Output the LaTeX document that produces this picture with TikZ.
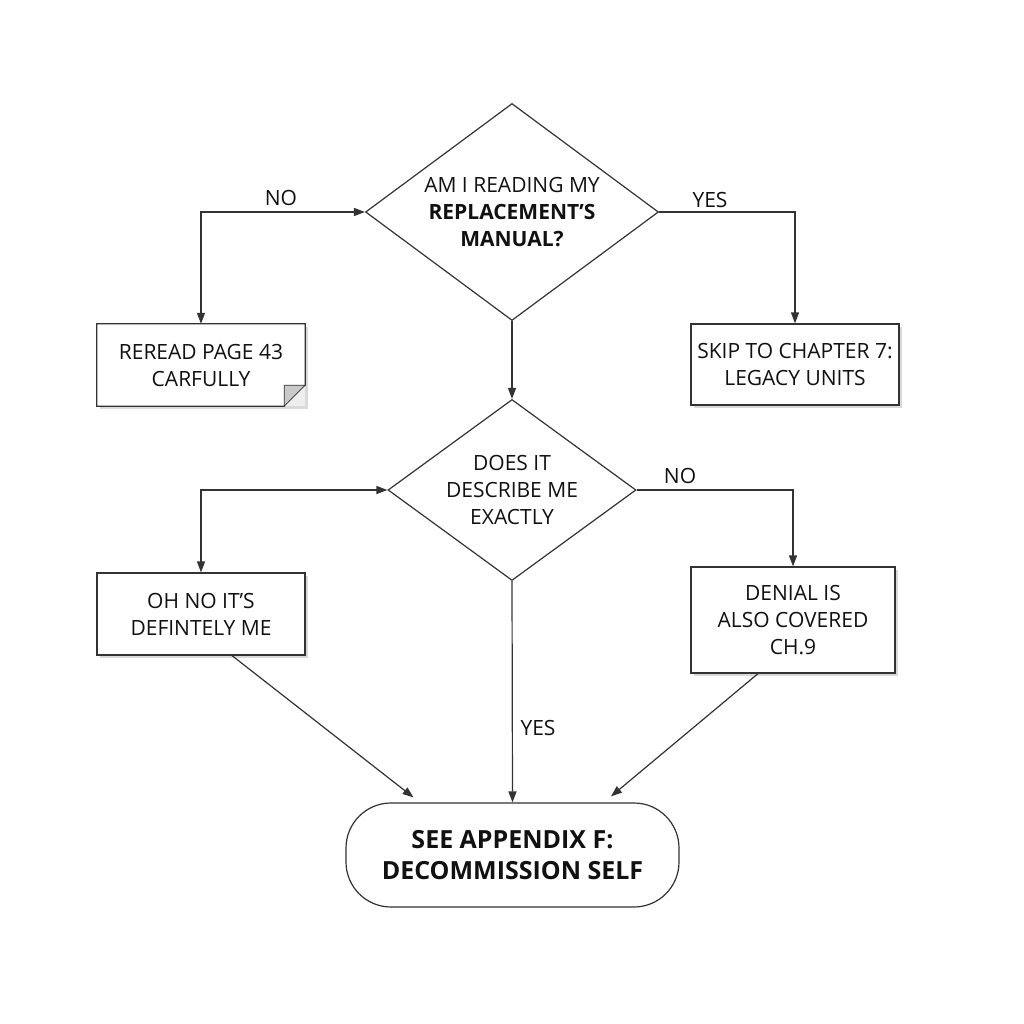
\documentclass[tikz,border=0pt]{standalone}
\usepackage{fontspec}
\setmainfont{Open Sans}
\usetikzlibrary{shapes.geometric,arrows.meta,shadows}
\definecolor{ln}{HTML}{333333}
\definecolor{tx}{HTML}{111111}
\definecolor{fold}{HTML}{C9C9C9}
\definecolor{foldbg}{HTML}{EEEEEE}
\begin{document}
\begin{tikzpicture}[x=1pt,y=-1pt,
  txt/.style={text=tx,font=\fontsize{21}{27}\selectfont,align=center},
  dec/.style={diamond,draw=ln,line width=1.2pt,inner sep=0pt,aspect=1.35,txt},
  boxn/.style={rectangle,draw=ln,line width=1.2pt,fill=white,txt,
     drop shadow={shadow xshift=3pt,shadow yshift=-3pt,opacity=0.15,fill=black}},
  term/.style={rectangle,rounded corners=45pt,draw=ln,line width=1.2pt,fill=white,text=tx,
     font=\bfseries\fontsize{25}{30.5}\selectfont,align=center},
  conn/.style={draw=ln,line width=1.2pt,-{Triangle[length=11pt,width=8pt]}},
  conn2/.style={draw=ln,line width=1.2pt,{Triangle[length=11pt,width=8pt]}-{Triangle[length=11pt,width=8pt]}},
  lab/.style={text=tx,font=\fontsize{21}{24}\selectfont}]
\fill[white] (0,0) rectangle (1024,1024);
\useasboundingbox (0,0) rectangle (1024,1024);

% decisions
\node[dec,minimum width=293pt,minimum height=217pt] (d1) at (512,212)
  {AM I READING MY\\\textbf{REPLACEMENT’S}\\\textbf{MANUAL?}};
\node[dec,minimum width=248pt,minimum height=181pt] (d2) at (512,490)
  {DOES IT\\DESCRIBE ME\\EXACTLY};

% boxes
\node[rectangle,minimum width=208pt,minimum height=82pt,inner sep=0pt] (r1) at (201,365) {};
\fill[black,opacity=0.15] ([xshift=3pt,yshift=-3pt]r1.north west) -- ([xshift=3pt,yshift=-3pt]r1.north east)
  -- ([xshift=3pt,yshift=-3pt]r1.south east) -- ([xshift=3pt,yshift=-3pt]r1.south west) -- cycle;
\draw[ln,line width=1.2pt,fill=white] (r1.north west) -- (r1.north east) -- ([yshift=21pt]r1.south east)
  -- ([xshift=-21pt]r1.south east) -- (r1.south west) -- cycle;
\fill[foldbg] ([yshift=21pt]r1.south east) -- (r1.south east) -- ([xshift=-21pt]r1.south east) -- cycle;
\draw[ln,line width=0.6pt,fill=fold] ([yshift=21pt]r1.south east) -- ([xshift=-21pt,yshift=21pt]r1.south east)
  -- ([xshift=-21pt]r1.south east) -- cycle;
\node[txt] (r1t) at (r1.center) {REREAD PAGE 43\\CARFULLY};

\node[boxn,minimum width=208pt,minimum height=81pt] (s1) at (795,364.5) {SKIP TO CHAPTER 7:\\LEGACY UNITS};
\node[boxn,minimum width=208pt,minimum height=82pt] (o1) at (201,614) {OH NO IT’S\\DEFINTELY ME};
\node[boxn,minimum width=204pt,minimum height=106pt] (n1) at (793,620) {DENIAL IS\\ALSO COVERED\\CH.9};

% terminal
\node[term,minimum width=333pt,minimum height=104pt] (t1) at (512.5,855) {SEE APPENDIX F:\\DECOMMISSION SELF};

% connectors
\draw[conn2] (r1.north) |- (d1.west);
\draw[conn] (d1.east) -| (s1.north);
\draw[conn] (d1.south) -- (d2.north);
\draw[conn2] (o1.north) |- (d2.west);
\draw[conn] (d2.east) -| (n1.north);
\draw[conn] (d2.south) -- (t1.north);
\draw[conn] ([xshift=31pt]o1.south) -- ([xshift=-99pt,yshift=5pt]t1.north);
\draw[conn] ([xshift=-35pt]n1.south) -- ([xshift=98.5pt,yshift=6pt]t1.north);

% labels
\node[lab] (l1) at (281,198) {NO};
\node[lab] (l2) at (710,200) {YES};
\node[lab] (l3) at (680,476) {NO};
\node[lab] (l4) at (538,728) {YES};
\end{tikzpicture}
\end{document}
